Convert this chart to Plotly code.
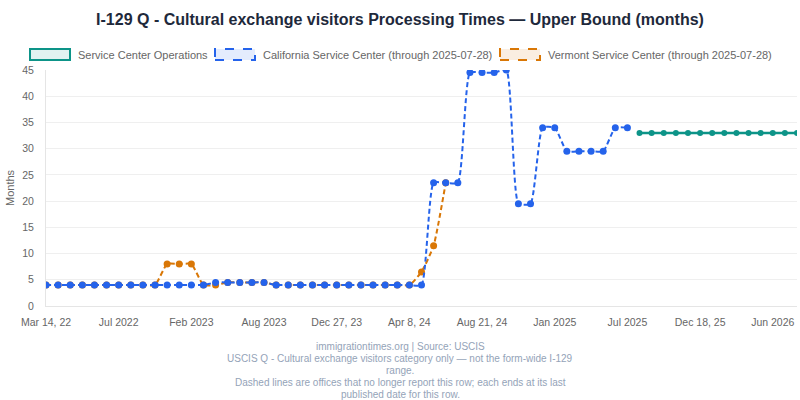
import plotly.graph_objects as go

# category dates (one per published snapshot)
dates = [
    "2022-03-14", "2022-04-05", "2022-04-25", "2022-05-16", "2022-06-03", "2022-06-21",
    "2022-07-11", "2022-08-04", "2022-09-01", "2022-09-28", "2022-10-25", "2022-12-20",
    "2023-02-01", "2023-03-01", "2023-03-30", "2023-04-27", "2023-05-25", "2023-06-29",
    "2023-08-03", "2023-08-24", "2023-09-14", "2023-10-12", "2023-11-02", "2023-11-30",
    "2023-12-27", "2024-01-12", "2024-01-31", "2024-02-16", "2024-03-01", "2024-03-22",
    "2024-04-08", "2024-04-30", "2024-05-21", "2024-06-12", "2024-07-03", "2024-07-25",
    "2024-08-21", "2024-09-11", "2024-10-02", "2024-10-30", "2024-11-20", "2024-12-12",
    "2025-01-08", "2025-02-05", "2025-03-05", "2025-04-02", "2025-05-07", "2025-06-11",
    "2025-07-28", "2025-08-20", "2025-09-10", "2025-10-01", "2025-10-22", "2025-11-19",
    "2025-12-18", "2026-01-15", "2026-02-12", "2026-03-12", "2026-04-09", "2026-05-07",
    "2026-06-04", "2026-07-02", "2026-07-30",
]
tick_labels = ["Mar 14, 22", "Jul 2022", "Feb 2023", "Aug 2023", "Dec 27, 23", "Apr 8, 24",
               "Aug 21, 24", "Jan 2025", "Jul 2025", "Dec 18, 25", "Jun 2026"]

csc_months = [4, 4, 4, 4, 4, 4, 4, 4, 4, 4, 4, 4, 4, 4,
              4.5, 4.5, 4.5, 4.5, 4.5,
              4, 4, 4, 4, 4, 4, 4, 4, 4, 4, 4, 4, 4,
              23.5, 23.5, 23.5, 44.5, 44.5, 44.5, 45,
              19.5, 19.5, 34, 34, 29.5, 29.5, 29.5, 29.5, 34, 34]
vsc_months = [4, 4, 4, 4, 4, 4, 4, 4, 4, 4, 8, 8, 8, 4, 4,
              4.5, 4.5, 4.5, 4.5,
              4, 4, 4, 4, 4, 4, 4, 4, 4, 4, 4, 4,
              6.5, 11.5, 23.5]
sco_months = [33, 33, 33, 33, 33, 33, 33, 33, 33, 33, 33, 33, 33, 33]

sco_name = "Service Center Operations"
csc_name = "California Service Center (through 2025-07-28)"
vsc_name = "Vermont Service Center (through 2025-07-28)"

TEAL, BLUE, ORANGE = "#0d9488", "#2563eb", "#d97706"
TEAL_FILL = "rgba(13,148,136,0.12)"
BLUE_FILL = "rgba(37,99,235,0.12)"
ORANGE_FILL = "rgba(217,119,6,0.12)"

W, H = 800, 400
L, R, T, B = 46, 3, 70, 94  # plot area 46..797 x 70..306


def px(x):
    return (x - L) / (W - L - R)


def py(y):
    return (H - B - y) / (H - T - B)


fig = go.Figure()

fig.add_trace(go.Scatter(
    x=dates[:len(vsc_months)], y=vsc_months, mode="lines+markers", name=vsc_name,
    line=dict(color=ORANGE, width=2, dash="5px,3px", shape="spline", smoothing=0.5),
    marker=dict(size=7, color=ORANGE, line=dict(width=0)),
    showlegend=False))
fig.add_trace(go.Scatter(
    x=dates[:len(csc_months)], y=csc_months, mode="lines+markers", name=csc_name,
    line=dict(color=BLUE, width=2, dash="5px,3px", shape="spline", smoothing=0.5),
    marker=dict(size=7, color=BLUE, line=dict(width=0)),
    showlegend=False))
fig.add_trace(go.Scatter(
    x=dates[len(dates) - len(sco_months):], y=sco_months, mode="lines+markers", name=sco_name,
    line=dict(color=TEAL, width=2.5),
    marker=dict(size=6, color=TEAL, line=dict(width=0)),
    showlegend=False))

# hand-drawn legend (boxes like the original)
legend_items = [
    (30, sco_name, TEAL, TEAL_FILL, "solid"),
    (215, csc_name, BLUE, BLUE_FILL, "dash"),
    (500, vsc_name, ORANGE, ORANGE_FILL, "dash"),
]
shapes = []
annotations = []
for x0, label, col, fill, dash in legend_items:
    shapes.append(dict(type="rect", xref="paper", yref="paper",
                       x0=px(x0), x1=px(x0 + 40), y0=py(60), y1=py(49),
                       line=dict(color=col, width=2, dash=dash), fillcolor=fill))
    annotations.append(dict(text=label, xref="paper", yref="paper", x=px(x0 + 46), y=py(54.5),
                            xanchor="left", yanchor="middle", showarrow=False,
                            font=dict(size=11, color="#666666")))

annotations.append(dict(text="Months", xref="paper", yref="paper", x=px(10), y=py(188),
                        textangle=-90, showarrow=False, xanchor="center", yanchor="middle",
                        font=dict(size=11, color="#666666")))

footer = [
    "immigrationtimes.org | Source: USCIS",
    "USCIS Q - Cultural exchange visitors category only — not the form-wide I-129",
    "range.",
    "Dashed lines are offices that no longer report this row; each ends at its last",
    "published date for this row.",
]
for i, line in enumerate(footer):
    annotations.append(dict(text=line, xref="paper", yref="paper", x=px(400), y=py(346 + 12 * i),
                            xanchor="center", yanchor="middle", showarrow=False,
                            font=dict(size=10, color="#94a3b8")))

fig.update_layout(
    width=W, height=H,
    margin=dict(l=L, r=R, t=T, b=B),
    paper_bgcolor="white", plot_bgcolor="white",
    font=dict(family="Liberation Sans, Arial, sans-serif", color="#666666"),
    title=dict(text="<b>I-129 Q - Cultural exchange visitors Processing Times — Upper Bound (months)</b>",
               x=0.5, xanchor="center", y=1 - 19 / H, yanchor="middle",
               font=dict(size=16, color="#1e293b")),
    shapes=shapes, annotations=annotations,
    showlegend=False,
)
fig.update_xaxes(
    type="category", categoryorder="array", categoryarray=dates,
    range=[0, len(dates) - 1],
    tickvals=dates[::6], ticktext=tick_labels,
    tickfont=dict(size=10.5, color="#666666"),
    showgrid=False, showline=True, linecolor="#e5e5e5", linewidth=1,
    ticks="", ticklabelstandoff=6,
)
fig.update_yaxes(
    range=[0, 45], dtick=5, tickfont=dict(size=10.5, color="#666666"),
    showgrid=True, gridcolor="#efefef", zeroline=False,
    showline=True, linecolor="#e5e5e5", linewidth=1,
    ticks="", ticklabelstandoff=9,
)

# drop the page's default body margin so the figure fills the window
fig.write_html("out.html", config={"displayModeBar": False},
               post_script="document.body.style.margin='0';")
